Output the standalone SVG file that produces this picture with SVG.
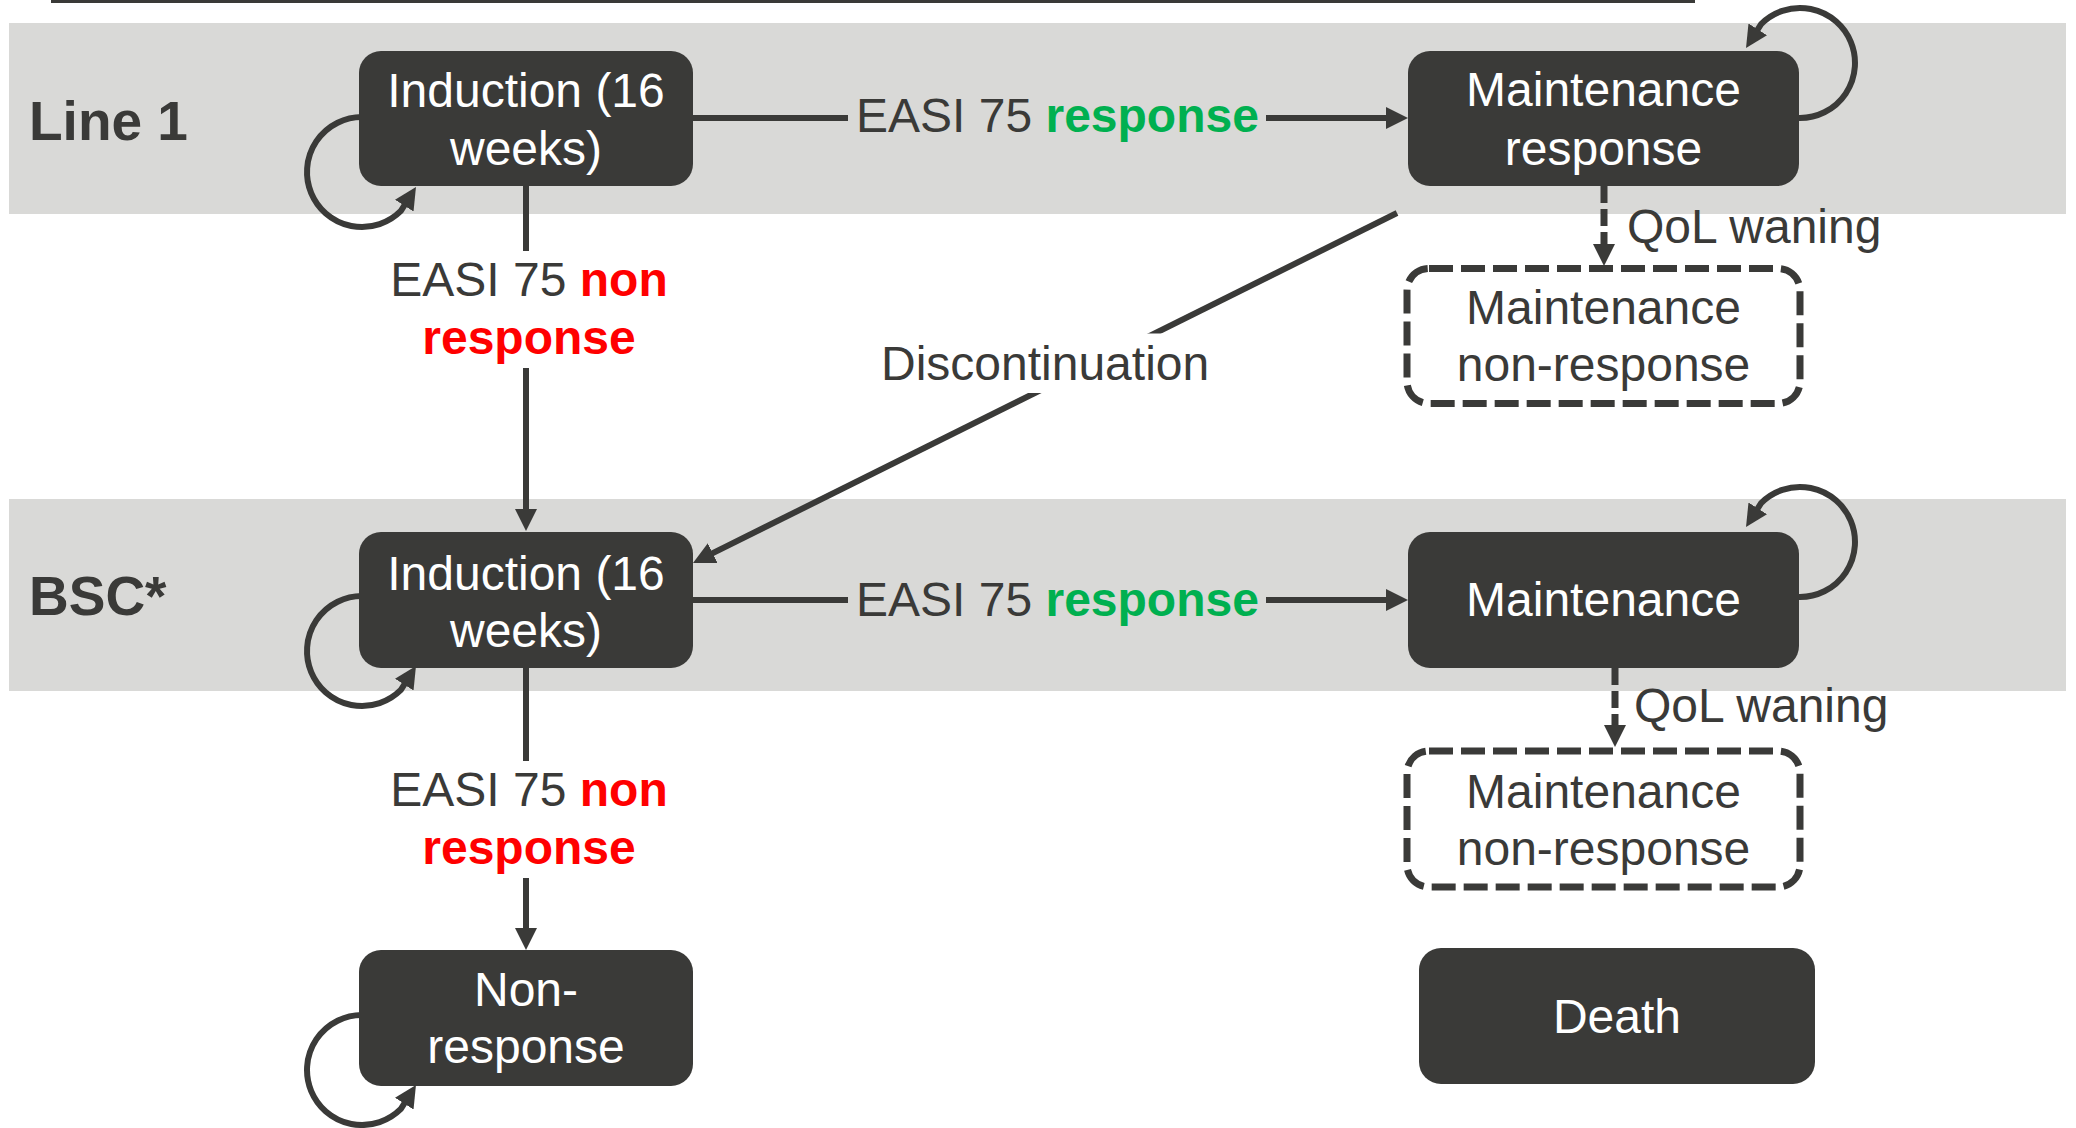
<svg xmlns="http://www.w3.org/2000/svg" width="2076" height="1128" viewBox="0 0 2076 1128">
<style>
.band{fill:#d9d9d7}
.node{fill:#3a3a38}
.dnode{fill:#ffffff;stroke:#3a3a38;stroke-width:7;stroke-dasharray:24 8}
.nt{font-family:"Liberation Sans",Arial,sans-serif;font-size:48px;fill:#ffffff;text-anchor:middle}
.dt{font-family:"Liberation Sans",Arial,sans-serif;font-size:48px;fill:#3a3a38;text-anchor:middle}
.lbl{font-family:"Liberation Sans",Arial,sans-serif;font-size:48px;fill:#3a3a38}
.row{font-family:"Liberation Sans",Arial,sans-serif;font-size:55px;font-weight:bold;fill:#3a3a38}
.g{fill:#00b050;font-weight:bold}
.r{fill:#ff0000;font-weight:bold}
.c{fill:none;stroke:#3a3a38;stroke-width:6}
.ca{fill:none;stroke:#3a3a38;stroke-width:6;marker-end:url(#ah)}
.cd{fill:none;stroke:#3a3a38;stroke-width:7;stroke-dasharray:17 6;marker-end:url(#ah)}
</style>
<defs>
<marker id="ah" markerUnits="userSpaceOnUse" viewBox="0 0 22 22" markerWidth="22" markerHeight="22" refX="14" refY="11" orient="auto">
<path d="M0,0 L22,11 L0,22 Z" fill="#3a3a38"/>
</marker>
</defs>
<rect width="2076" height="1128" fill="#ffffff"/>
<line x1="51" y1="1.5" x2="1695" y2="1.5" stroke="#3a3a38" stroke-width="3"/>
<rect class="band" x="9" y="23" width="2057" height="191"/>
<rect class="band" x="9" y="499" width="2057" height="192"/>
<text class="row" x="29" y="140">Line 1</text>
<text class="row" x="29" y="615">BSC*</text>
<g id="connectors">
<line class="c" x1="693" y1="118" x2="848" y2="118"/>
<line class="ca" x1="1266" y1="118" x2="1400" y2="118"/>
<line class="c" x1="693" y1="600" x2="848" y2="600"/>
<line class="ca" x1="1266" y1="600" x2="1400" y2="600"/>
<line class="c" x1="526" y1="186" x2="526" y2="251"/>
<line class="ca" x1="526" y1="368" x2="526" y2="523"/>
<line class="c" x1="526" y1="668" x2="526" y2="761"/>
<line class="ca" x1="526" y1="878" x2="526" y2="942"/>
<line class="ca" x1="1397" y1="213" x2="700.2" y2="559.4"/>
<rect x="870" y="333.5" width="345" height="59.5" fill="#ffffff"/>
<line class="cd" x1="1604" y1="186" x2="1604" y2="258"/>
<line class="cd" x1="1615" y1="668" x2="1615" y2="739"/>
<path class="ca" d="M369 117 L362 117 A55 55 0 1 0 400.9 210.9 L411.7 193.8"/>
<path class="ca" d="M369 596 L362 596 A55 55 0 1 0 400.9 689.9 L411.7 672.8"/>
<path class="ca" d="M369 1015 L362 1015 A55 55 0 1 0 400.9 1108.9 L411.7 1091.8"/>
<path class="ca" d="M1790 118 L1800 118 A55 55 0 1 0 1761.1 24.1 L1750.3 41.2"/>
<path class="ca" d="M1790 597 L1800 597 A55 55 0 1 0 1761.1 503.1 L1750.3 520.2"/>
</g>
<g id="labels">
<text class="lbl" x="856" y="132">EASI 75 <tspan class="g">response</tspan></text>
<text class="lbl" x="856" y="616">EASI 75 <tspan class="g">response</tspan></text>
<text class="lbl" x="529" y="296" text-anchor="middle">EASI 75 <tspan class="r">non</tspan></text>
<text class="lbl r" x="529" y="354" text-anchor="middle">response</text>
<text class="lbl" x="529" y="806" text-anchor="middle">EASI 75 <tspan class="r">non</tspan></text>
<text class="lbl r" x="529" y="864" text-anchor="middle">response</text>
<text class="lbl" x="881" y="380">Discontinuation</text>
<text class="lbl" x="1627" y="243">QoL waning</text>
<text class="lbl" x="1634" y="722">QoL waning</text>
</g>
<g id="n-induction-line1">
<rect class="node" x="359" y="51" width="334" height="135" rx="22"/>
<text class="nt" x="526" y="107">Induction (16</text>
<text class="nt" x="526" y="165">weeks)</text>
</g>
<g id="n-maintenance-response">
<rect class="node" x="1408" y="51" width="391" height="135" rx="22"/>
<text class="nt" x="1603.5" y="106">Maintenance</text>
<text class="nt" x="1603.5" y="165">response</text>
</g>
<g id="n-maint-nonresponse-line1">
<rect class="dnode" x="1407" y="268.5" width="393" height="135" rx="22"/>
<text class="dt" x="1603.5" y="324">Maintenance</text>
<text class="dt" x="1603.5" y="381">non-response</text>
</g>
<g id="n-induction-bsc">
<rect class="node" x="359" y="532" width="334" height="136" rx="22"/>
<text class="nt" x="526" y="590">Induction (16</text>
<text class="nt" x="526" y="647">weeks)</text>
</g>
<g id="n-maintenance-bsc">
<rect class="node" x="1408" y="532" width="391" height="136" rx="22"/>
<text class="nt" x="1603.5" y="616">Maintenance</text>
</g>
<g id="n-maint-nonresponse-bsc">
<rect class="dnode" x="1407" y="751" width="393" height="136" rx="22"/>
<text class="dt" x="1603.5" y="808">Maintenance</text>
<text class="dt" x="1603.5" y="865">non-response</text>
</g>
<g id="n-nonresponse">
<rect class="node" x="359" y="950" width="334" height="136" rx="22"/>
<text class="nt" x="526" y="1006">Non-</text>
<text class="nt" x="526" y="1063">response</text>
</g>
<g id="n-death">
<rect class="node" x="1419" y="948" width="396" height="136" rx="22"/>
<text class="nt" x="1617" y="1033">Death</text>
</g>
</svg>
